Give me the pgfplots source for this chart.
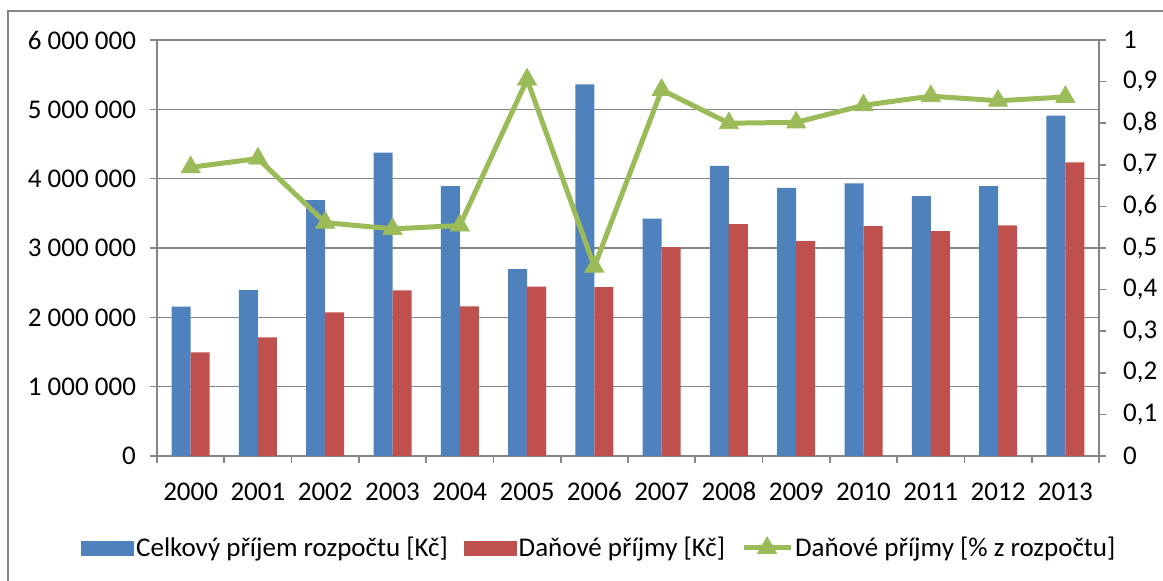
\documentclass[border=0pt]{standalone}
\usepackage{fontspec}
\setmainfont{Carlito}
\usepackage{pgfplots}
\usepackage{pgfplotstable}
\pgfplotsset{compat=1.18}
\definecolor{barblue}{HTML}{4F81BD}
\definecolor{barred}{HTML}{C0504D}
\definecolor{linegreen}{HTML}{9BBB59}
\definecolor{axisgray}{HTML}{868686}

% year index, total budget income, tax income, tax share
\pgfplotstableread{
x total tax share
0 2153000 1495000 0.694
1 2394000 1712000 0.715
2 3692000 2072000 0.561
3 4375000 2389000 0.546
4 3894000 2159000 0.554
5 2697000 2442000 0.905
6 5361000 2437000 0.455
7 3423000 3014000 0.880
8 4183000 3346000 0.800
9 3866000 3101000 0.802
10 3933000 3317000 0.843
11 3750000 3245000 0.865
12 3894000 3327000 0.854
13 4909000 4236000 0.863
}\data

\newcommand{\chartfont}{\fontsize{13.5}{16}\selectfont}

\pgfplotsset{
  base/.style={
    at={(78.5pt,62pt)}, anchor=south west,
    scale only axis, width=471pt, height=208pt,
    xmin=-0.5, xmax=13.5,
    tick align=outside,
    major tick length=3.5pt, minor tick length=3.5pt,
    every tick/.style={axisgray, line width=0.8pt},
    axis line style={axisgray, line width=0.8pt},
    ticklabel style={font=\chartfont, text=black},
    /pgf/number format/assume math mode=true,
  },
  boxlegend/.style={legend image code/.code={\fill[#1] (0pt,-3.5pt) rectangle (26pt,3.5pt);}},
  linelegend/.style={legend image code/.code={%
    \draw[mark repeat=2, mark phase=2, ##1] plot coordinates {(1.25pt,0pt) (13pt,0pt) (24.75pt,0pt)};}},
}

\begin{document}
\begin{tikzpicture}
\useasboundingbox (0,0) rectangle (581.5pt,290pt);
\draw[axisgray, line width=0.8pt] (4pt,-2pt) |- (583pt,284.5pt);

\begin{axis}[
  base,
  ymin=0, ymax=6000000,
  axis x line*=bottom, axis y line*=left,
  ytick={0,1000000,2000000,3000000,4000000,5000000,6000000},
  yticklabels={0,1 000 000,2 000 000,3 000 000,4 000 000,5 000 000,6 000 000},
  yticklabel style={xshift=-3.5pt},
  scaled y ticks=false,
  ymajorgrids, grid style={axisgray, line width=0.8pt},
  xtick={0,...,13},
  xticklabels={2000,2001,2002,2003,2004,2005,2006,2007,2008,2009,2010,2011,2012,2013},
  xticklabel style={text height=9pt, text depth=0pt, yshift=-6pt},
  major x tick style={draw=none},
  minor xtick={-0.5,0.5,...,13.5},
  xtick pos=bottom, ytick pos=left,
]
\addplot[ybar, bar width=9.5pt, bar shift=-4.75pt, fill=barblue, draw=none] table[x=x, y=total] {\data};
\addplot[ybar, bar width=9.5pt, bar shift=4.75pt, fill=barred, draw=none] table[x=x, y=tax] {\data};
\end{axis}

\begin{axis}[
  base,
  ymin=0, ymax=1,
  axis x line=none, axis y line*=right,
  ytick={0,0.1,0.2,0.3,0.4,0.5,0.6,0.7,0.8,0.9,1},
  yticklabels={0,{0,1},{0,2},{0,3},{0,4},{0,5},{0,6},{0,7},{0,8},{0,9},1},
  yticklabel style={anchor=west, xshift=5pt},
  legend columns=3,
  legend style={at={(-0.0807,-0.221)}, anchor=west, draw=none, fill=none,
    inner sep=0pt, font=\chartfont,
    nodes={inner xsep=1pt, inner ysep=0pt},
    /tikz/every even column/.append style={column sep=7pt}},
]
\addlegendimage{boxlegend=barblue}
\addlegendimage{boxlegend=barred}
\addplot[linegreen, line width=2.5pt, mark=triangle*,
  mark options={solid, line width=0.4pt}, mark size=5.5pt, linelegend]
  table[x=x, y=share] {\data};
\legend{Celkový příjem rozpočtu [Kč], Daňové příjmy [Kč], Daňové příjmy [\% z rozpočtu]}
\end{axis}
\end{tikzpicture}
\end{document}
